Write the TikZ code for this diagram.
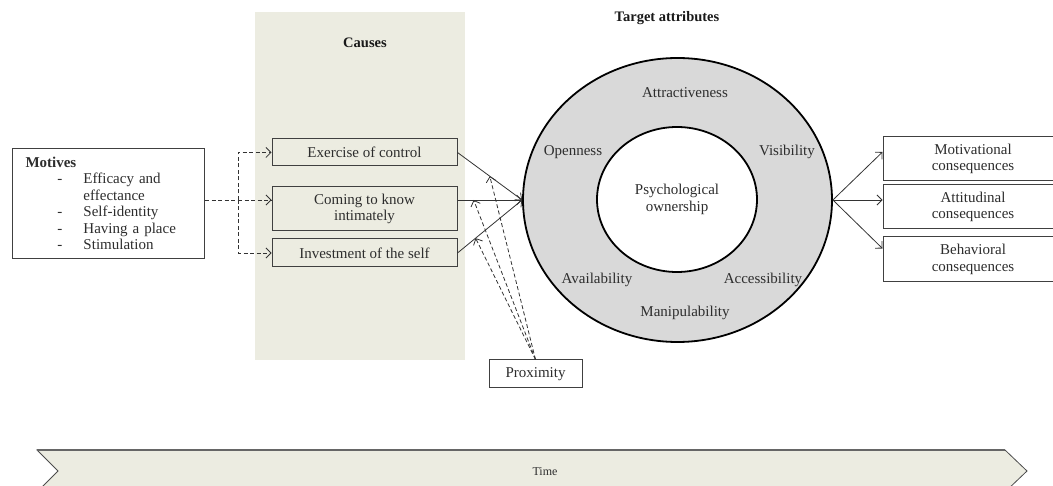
\documentclass[tikz,border=0pt]{standalone}
\usepackage{fontspec}
\setmainfont{Liberation Serif}
\usetikzlibrary{arrows.meta,positioning,shapes.geometric,calc}
\definecolor{causebg}{RGB}{236,236,225}
\definecolor{ringfill}{RGB}{217,217,217}
\definecolor{txt}{RGB}{45,45,45}

\begin{document}
\begin{tikzpicture}[x=1pt,y=-1pt,>={Straight Barb[length=5pt,width=10pt]},
  every node/.style={font=\fontsize{15}{16.5}\selectfont,text=txt},
  head/.style={font=\fontsize{14.5}{16.5}\selectfont\bfseries,text=black!90},
  box/.style={draw=black!75,line width=1pt,fill=white,align=center,inner sep=2pt},
  link/.style={->,line width=0.8pt,draw=black!80},
  dsh/.style={->,line width=0.8pt,draw=black!80,dash pattern=on 4pt off 2.5pt}]
\useasboundingbox (0,0) rectangle (1053,486);
% causes panel
\node[fill=causebg,minimum width=210,minimum height=348,inner sep=0] (panel) at (360,186) {};
\node[head] (causes) at (365,43) {Causes};
\node[box,fill=causebg,minimum width=185,minimum height=27] (c0) at (364.5,152.5) {Exercise of control};
\node[box,fill=causebg,minimum width=185,minimum height=44] (c1) at (364.5,209) {Coming to know\\intimately};
\node[box,fill=causebg,minimum width=185,minimum height=28] (c2) at (364.5,253) {Investment of the self};
% motives
\node[box,align=left,anchor=north west,text width=166pt,inner xsep=13pt,minimum height=110] (mot) at (12,148) {\textbf{Motives}\\
\hspace*{32pt}\makebox[26pt][l]{-}Efficacy and\\
\hspace*{58pt}effectance\\
\hspace*{32pt}\makebox[26pt][l]{-}Self-identity\\
\hspace*{32pt}\makebox[26pt][l]{-}Having a place\\
\hspace*{32pt}\makebox[26pt][l]{-}Stimulation};
\coordinate (split) at (238,200);
\draw[dsh,-] (mot.east |- split) -- (split);
\draw[dsh] (split) |- (c0.west);
\draw[dsh] (split) -- (c1.west |- split);
\draw[dsh] (split) |- (c2.west);
% target attributes
\node[head] (target) at (667,18) {Target attributes};
\node[ellipse,draw=black,line width=1.8pt,fill=ringfill,minimum width=309,minimum height=284,inner sep=0] (ring) at (677.5,200) {};
\node[ellipse,draw=black,line width=1.8pt,fill=white,minimum width=160,minimum height=145,inner sep=0,align=center] (core) at (677,199.5) {Psychological\\ownership};
\node (a0) at (685,93) {Attractiveness};
\node (a1) at (573,152) {Openness};
\node (a2) at (787,152) {Visibility};
\node (a3) at (597,280) {Availability};
\node (a4) at (763,280) {Accessibility};
\node (a5) at (685,313) {Manipulability};
\coordinate (k1) at (c1.east |- ring.west);
\draw[link] (c0.east) -- (ring.west);
\draw[link] (k1) -- (ring.west);
\draw[link] (c2.east) -- (ring.west);
% proximity
\node[box,minimum width=93,minimum height=28] (prox) at (535.5,374) {Proximity};
\draw[dsh] (prox.north) -- ($(c0.east)!0.5!(ring.west)$);
\draw[dsh] (prox.north) -- ($(k1)!0.25!(ring.west)$);
\draw[dsh] (prox.north) -- ($(c2.east)!0.28!(ring.west)$);
% consequences
\node[box,minimum width=180,minimum height=44] (q0) at (973,159) {Motivational\\consequences};
\node[box,minimum width=180,minimum height=44] (q1) at (973,207) {Attitudinal\\consequences};
\node[box,minimum width=180,minimum height=45] (q2) at (973,259.5) {Behavioral\\consequences};
\draw[link] (ring.east) -- ([yshift=7pt]q0.west);
\draw[link] (ring.east) -- (q1.west |- ring.east);
\draw[link] (ring.east) -- ([yshift=11pt]q2.west);
% time
\filldraw[fill=causebg,draw=black!70,line width=0.8pt] (37,450) -- (1005,450) -- (1027,471) -- (1005,492) -- (37,492) -- (58,471) -- cycle;
\draw[line width=2pt,draw=black!60] (37,450) -- (1005,450);
\node[font=\fontsize{12}{14}\selectfont] (time) at (545,472) {Time};
\end{tikzpicture}
\end{document}
